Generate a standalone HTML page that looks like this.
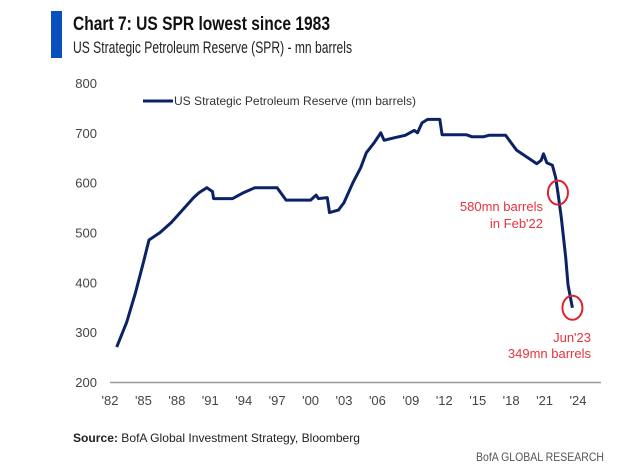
<!DOCTYPE html>
<html><head><meta charset="utf-8"><style>
body{margin:0;background:#fff;}
svg{display:block;font-family:"Liberation Sans",sans-serif;}
</style></head><body>
<svg id="c" width="641" height="467" viewBox="0 0 641 467">
<rect x="51" y="11" width="11" height="47" fill="#0a4fc0"/>
<text x="73" y="30" font-size="19" font-weight="bold" fill="#111" textLength="257" lengthAdjust="spacingAndGlyphs">Chart 7: US SPR lowest since 1983</text>
<text x="73" y="53" font-size="17" fill="#222" textLength="279" lengthAdjust="spacingAndGlyphs">US Strategic Petroleum Reserve (SPR) - mn barrels</text>
<g id="yaxis"></g>
<g id="xaxis"></g>
<line x1="143" y1="101" x2="173" y2="101" stroke="#0c2266" stroke-width="3"/>
<text x="174" y="105" font-size="12" fill="#333" textLength="242" lengthAdjust="spacingAndGlyphs">US Strategic Petroleum Reserve (mn barrels)</text>
<path id="line" fill="none" stroke="#0c2266" stroke-width="3" stroke-linejoin="round"/>
<g id="ann"></g>
<text x="73" y="442" font-size="12" fill="#222" textLength="287" lengthAdjust="spacingAndGlyphs"><tspan font-weight="bold">Source:</tspan> BofA Global Investment Strategy, Bloomberg</text>
<text x="476" y="461" font-size="12" fill="#555" textLength="128" lengthAdjust="spacingAndGlyphs">BofA GLOBAL RESEARCH</text>
</svg>
<script>
const years=[1982.6,1983.5,1984.3,1985,1985.5,1986.5,1987.5,1988.5,1989.5,1990,1990.7,1991.2,1991.3,1993,1994,1995,1997,1997.8,2000,2000.5,2000.7,2001.5,2001.7,2002.5,2003,2003.8,2004.5,2005,2005.7,2006.3,2006.6,2007.5,2008.5,2009.3,2009.6,2010,2010.5,2011.6,2011.8,2014,2014.5,2015.5,2016,2017.5,2018,2018.5,2019.5,2020.3,2020.7,2020.9,2021.2,2021.7,2022,2022.2,2022.5,2022.9,2023.1,2023.5];
const values=[270,320,380,440,485,500,520,545,570,580,590,582,568,568,580,590,590,565,565,575,568,570,540,545,560,600,630,660,680,700,685,690,695,705,700,720,727,727,696,696,692,692,695,695,680,665,650,638,645,658,640,635,610,580,530,450,395,349];
const yTicks=[200,300,400,500,600,700,800];
const xTickLabels=["'82","'85","'88","'91","'94","'97","'00","'03","'06","'09","'12","'15","'18","'21","'24"];
const xTickYears=[1982,1985,1988,1991,1994,1997,2000,2003,2006,2009,2012,2015,2018,2021,2024];
const markYears=[2022.2,2023.5];
const markValues=[580,349];
const NS="http://www.w3.org/2000/svg";
const X=y=>110+(y-1982)*11.143;
const Y=v=>382-(v-200)*0.4983;
function mk(tag,attrs,parent,txt){const e=document.createElementNS(NS,tag);for(const k in attrs)e.setAttribute(k,attrs[k]);if(txt!=null)e.textContent=txt;parent.appendChild(e);return e;}
const ya=document.getElementById('yaxis');
yTicks.forEach(t=>{const e=mk('text',{x:97,y:Y(t)+5,'font-size':13,fill:'#444','text-anchor':'end'},ya,t);

});
const xa=document.getElementById('xaxis');
const ax=mk('line',{x1:110,y1:382.5,x2:601,y2:382.5,stroke:'#999','stroke-width':1.5},xa);


xTickYears.forEach((yr,i)=>{const e=mk('text',{x:X(yr),y:405,'font-size':13,fill:'#444','text-anchor':'middle'},xa,xTickLabels[i]);

});
document.getElementById('line').setAttribute('d',years.map((y,i)=>(i?'L':'M')+X(y).toFixed(1)+','+Y(values[i]).toFixed(1)).join(''));
const an=document.getElementById('ann');
markYears.forEach((yr,i)=>{const c=mk('ellipse',{cx:X(yr),cy:Y(markValues[i]),rx:10,ry:12,fill:'none',stroke:'#e0202a','stroke-width':2},an);

});
const notes=[[543,211,"580mn barrels"],[543,228,"in Feb'22"],[591,342,"Jun'23"],[591,358,"349mn barrels"]];
notes.forEach(n=>{const t=mk('text',{x:n[0],y:n[1],'font-size':13,fill:'#e8323c','text-anchor':'end'},an,n[2]);

});
</script>
</body></html>
